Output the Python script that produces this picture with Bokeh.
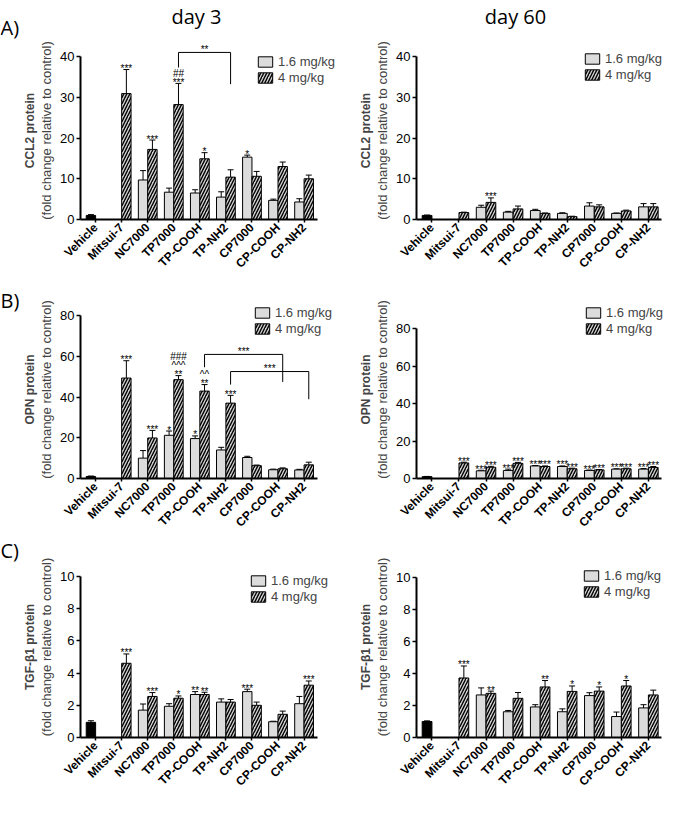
import math
from bokeh.plotting import figure
from bokeh.models import (ColumnDataSource, Whisker, TeeHead, Legend, LegendItem,
                          Title, FixedTicker, Range1d)
from bokeh.layouts import row, column
from bokeh.embed import file_html
from bokeh.resources import INLINE
from bokeh.core.properties import value

# ---------------- data ----------------
groups = ["Vehicle", "Mitsui-7", "NC7000", "TP7000", "TP-COOH", "TP-NH2", "CP7000", "CP-COOH", "CP-NH2"]
dose_labels = ["1.6 mg/kg", "4 mg/kg"]
panel_letters = ["A)", "B)", "C)"]
day_titles = ["day 3", "day 60"]

# CCL2, day 3
ccl2_d3_vehicle = [1.0, 0.2]
ccl2_d3_low = [None, 9.7, 6.7, 6.5, 5.5, 15.3, 4.7, 4.3]
ccl2_d3_low_err = [None, 2.3, 1.0, 0.8, 1.3, 0.5, 0.3, 0.8]
ccl2_d3_high = [30.9, 17.2, 28.2, 14.9, 10.4, 10.6, 13.0, 10.0]
ccl2_d3_high_err = [5.9, 2.3, 5.2, 1.5, 1.8, 1.2, 1.1, 0.9]
ccl2_d3_low_sig = ["", "", "", "", "", "*", "", ""]
ccl2_d3_high_sig = ["***", "***", "##\n***", "*", "", "", "", ""]
ccl2_d3_brackets = [("TP7000", "TP-NH2", 41.0, 37.3, 33.2, "**")]

# CCL2, day 60
ccl2_d60_vehicle = [1.0, 0.1]
ccl2_d60_low = [None, 3.0, 1.8, 2.2, 1.5, 3.3, 1.5, 3.1]
ccl2_d60_low_err = [None, 0.5, 0.2, 0.3, 0.15, 0.8, 0.1, 0.8]
ccl2_d60_high = [1.7, 4.2, 2.6, 1.5, 0.7, 3.1, 2.1, 3.1]
ccl2_d60_high_err = [0.1, 1.1, 0.7, 0.1, 0.1, 0.5, 0.2, 0.8]
ccl2_d60_low_sig = ["", "", "", "", "", "", "", ""]
ccl2_d60_high_sig = ["", "***", "", "", "", "", "", ""]
ccl2_d60_brackets = []

# OPN, day 3
opn_d3_vehicle = [1.0, 0.2]
opn_d3_low = [None, 10.0, 21.2, 19.6, 14.0, 10.3, 4.3, 4.2]
opn_d3_low_err = [None, 3.7, 2.1, 1.3, 1.3, 0.6, 0.3, 0.3]
opn_d3_high = [49.3, 19.9, 48.5, 42.9, 37.0, 6.3, 4.8, 6.7]
opn_d3_high_err = [8.5, 3.7, 2.0, 3.2, 3.8, 0.3, 0.4, 1.3]
opn_d3_low_sig = ["", "", "*", "*", "", "", "", ""]
opn_d3_high_sig = ["***", "***", "###\n^^^\n**", "^^\n**", "***", "", "", ""]
opn_d3_brackets = [("TP-COOH", "CP-COOH", 60.9, 54.6, 47.4, "***"),
                   ("TP-NH2", "CP-NH2", 52.5, 46.1, 38.9, "***")]

# OPN, day 60
opn_d60_vehicle = [1.0, 0.1]
opn_d60_low = [None, 4.1, 4.3, 6.7, 6.4, 4.3, 5.0, 5.0]
opn_d60_low_err = [None, 0.3, 0.7, 0.2, 0.3, 0.2, 0.2, 0.3]
opn_d60_high = [8.3, 6.0, 8.1, 6.4, 5.2, 4.6, 5.2, 5.9]
opn_d60_high_err = [0.4, 0.5, 0.5, 0.3, 0.3, 0.2, 0.3, 0.5]
opn_d60_low_sig = ["", "***", "***", "***", "***", "***", "***", "***"]
opn_d60_high_sig = ["***", "***", "***", "***", "***", "***", "***", "***"]
opn_d60_brackets = []

# TGF-beta1, day 3
tgf_d3_vehicle = [0.94, 0.1]
tgf_d3_low = [None, 1.70, 1.94, 2.67, 2.20, 2.85, 0.98, 2.10]
tgf_d3_low_err = [None, 0.38, 0.16, 0.18, 0.20, 0.15, 0.03, 0.45]
tgf_d3_high = [4.61, 2.55, 2.44, 2.67, 2.20, 2.00, 1.44, 3.25]
tgf_d3_high_err = [0.58, 0.24, 0.14, 0.14, 0.16, 0.20, 0.20, 0.26]
tgf_d3_low_sig = ["", "", "", "**", "", "***", "", ""]
tgf_d3_high_sig = ["***", "***", "*", "**", "", "", "", "***"]
tgf_d3_brackets = []

# TGF-beta1, day 60
tgf_d60_vehicle = [1.0, 0.04]
tgf_d60_low = [None, 2.66, 1.61, 1.91, 1.61, 2.62, 1.31, 1.85]
tgf_d60_low_err = [None, 0.44, 0.08, 0.14, 0.18, 0.18, 0.28, 0.20]
tgf_d60_high = [3.72, 2.76, 2.45, 3.16, 2.88, 2.90, 3.22, 2.66]
tgf_d60_high_err = [0.75, 0.14, 0.36, 0.40, 0.34, 0.26, 0.34, 0.30]
tgf_d60_low_sig = ["", "", "", "", "", "", "", ""]
tgf_d60_high_sig = ["***", "**", "", "**", "*", "*", "*", ""]
tgf_d60_brackets = []

# ---------------- styling / layout ----------------
FONT = "Liberation Sans"
HEAD_FONT = "Open Sans"
LIGHT = "#dcdcdc"
HATCH_BG = "#d2d2d2"
BAR_W = 0.36
OFF = 0.18
PITCH = 27.06          # px per category
LETTER_W = 20
HEADER_H = 32
LEFT_W = 320
RIGHT_W = 329
ROW_TOPS = [32, 288, 547]   # page y of each row's top
ROW_H = [256, 259, 250]


def make_panel(fig_w, row_i, b_left, x_start, frame_top, ytop_px, y0_px, y_top, y_ticks,
               vehicle, low, low_err, high, high_err, low_sig, high_sig, brackets,
               bold_label, legend_loc):
    fig_top = ROW_TOPS[row_i]
    fig_h = ROW_H[row_i]
    b_top = frame_top - fig_top
    b_bottom = fig_top + fig_h - y0_px
    y_end = y_top * (y0_px - frame_top) / (y0_px - ytop_px)
    x_end = x_start + (fig_w - b_left) / PITCH
    p = figure(width=fig_w, height=fig_h, x_range=Range1d(x_start, x_end),
               y_range=Range1d(0, y_end),
               output_backend="svg", toolbar_location=None,
               min_border_left=b_left, min_border_right=0,
               min_border_top=b_top, min_border_bottom=b_bottom)
    p.xgrid.visible = False
    p.ygrid.visible = False
    p.outline_line_color = None

    lx, lt, le = [], [], []
    hx, ht, he = [], [], []
    for i in range(8):
        if low[i] is not None:
            lx.append(i + 1 - OFF); lt.append(low[i]); le.append(low[i] + low_err[i])
        if high[i] is not None:
            hx.append(i + 1 + OFF); ht.append(high[i]); he.append(high[i] + high_err[i])

    src_v = ColumnDataSource(dict(x=[0 - OFF], top=[vehicle[0]], hi=[vehicle[0] + vehicle[1]]))
    src_l = ColumnDataSource(dict(x=lx, top=lt, hi=le))
    src_h = ColumnDataSource(dict(x=hx, top=ht, hi=he))

    p.vbar(x="x", top="top", width=BAR_W, source=src_v, fill_color="black",
           line_color="black", line_width=1)
    r_low = p.vbar(x="x", top="top", width=BAR_W, source=src_l, fill_color=LIGHT,
                   line_color="black", line_width=1)
    r_high = p.vbar(x="x", top="top", width=BAR_W, source=src_h, fill_color=HATCH_BG,
                    line_color="black", line_width=1, hatch_pattern="/", hatch_color="black",
                    hatch_weight=1.4, hatch_scale=6)

    for s in (src_v, src_l, src_h):
        p.add_layout(Whisker(base="x", lower="top", upper="hi", source=s, dimension="height",
                             line_color="black", line_width=1, lower_head=None,
                             upper_head=TeeHead(size=6, line_color="black", line_width=1)))

    # significance marks, stacked bottom-up above the error bar
    tx, ty, tt, to = [], [], [], []
    for i in range(8):
        for sig, xs, m, e in ((low_sig[i], i + 1 - OFF, low[i], low_err[i]),
                              (high_sig[i], i + 1 + OFF, high[i], high_err[i])):
            if not sig:
                continue
            for k, ln in enumerate(sig.split("\n")[::-1]):
                tx.append(xs); ty.append(m + e); tt.append(ln); to.append(-1 - 9 * k)
    p.text(x=tx, y=ty, text=tt, y_offset=to, text_align="center", text_baseline="alphabetic",
           text_font=value(FONT), text_font_size="10px", text_color="black")

    for (g0, g1, ytop, yb0, yb1, lab) in brackets:
        x0 = groups.index(g0) + OFF
        x1 = groups.index(g1) + OFF
        p.line(x=[x0, x0, x1, x1], y=[yb0, ytop, ytop, yb1], line_color="black", line_width=1)
        p.text(x=[(x0 + x1) / 2], y=[ytop], text=[lab], y_offset=[-3], text_align="center",
               text_baseline="alphabetic", text_font=value(FONT), text_font_size="10px",
               text_color="black")

    xa = p.xaxis[0]
    xa.ticker = FixedTicker(ticks=list(range(9)))
    xa.bounds = (x_start, 8.5)
    xa.major_label_overrides = {i: g for i, g in enumerate(groups)}
    xa.major_label_orientation = math.pi / 4
    xa.major_label_text_font = FONT
    xa.major_label_text_font_style = "bold"
    xa.major_label_text_font_size = "12px"
    xa.major_label_text_line_height = 0.8
    xa.major_label_text_color = "black"
    xa.major_label_standoff = 3
    xa.axis_line_width = 2
    xa.axis_line_color = "black"
    xa.major_tick_out = 3
    xa.major_tick_in = 0
    xa.major_tick_line_width = 1.5
    xa.minor_tick_line_color = None

    ya = p.yaxis[0]
    ya.ticker = FixedTicker(ticks=y_ticks)
    ya.bounds = (0, y_top)
    ya.major_label_text_font = FONT
    ya.major_label_text_font_size = "13px"
    ya.major_label_text_color = "black"
    ya.major_label_standoff = 2
    ya.axis_line_width = 2
    ya.axis_line_color = "black"
    ya.major_tick_out = 4
    ya.major_tick_in = 0
    ya.major_tick_line_width = 1.5
    ya.minor_tick_line_color = None
    ya.axis_label = "(fold change relative to control)"
    ya.axis_label_text_font = FONT
    ya.axis_label_text_font_style = "normal"
    ya.axis_label_text_font_size = "13px"
    ya.axis_label_standoff = 3
    p.add_layout(Title(text=bold_label, text_font=FONT, text_font_style="bold",
                       text_font_size="12px", align="center", standoff=0), "left")

    legend = Legend(items=[LegendItem(label=dose_labels[0], renderers=[r_low]),
                           LegendItem(label=dose_labels[1], renderers=[r_high])],
                    location=legend_loc, orientation="vertical", border_line_color=None,
                    background_fill_alpha=0, padding=0, margin=0, spacing=1,
                    glyph_width=18, glyph_height=13, label_height=13, label_standoff=4,
                    label_text_font=FONT, label_text_font_size="13px",
                    label_text_baseline="middle")
    p.add_layout(legend)
    return p


def text_strip(w, h, xs, ys, texts, size, align):
    p = figure(width=w, height=h, x_range=Range1d(0, w), y_range=Range1d(h, 0),
               output_backend="svg", toolbar_location=None, min_border=0,
               x_axis_location=None, y_axis_location=None)
    p.xgrid.visible = False
    p.ygrid.visible = False
    p.outline_line_color = None
    p.text(x=xs, y=ys, text=texts, text_font=value(HEAD_FONT), text_font_size=size,
           text_align=align, text_baseline="alphabetic", text_color="black")
    return p


letters = text_strip(LETTER_W, 797, [0, 0, 0], [27, 300, 550], panel_letters, "20px", "left")
header = text_strip(LEFT_W + RIGHT_W, HEADER_H, [176, 495], [16, 16], day_titles, "20px", "center")

pA1 = make_panel(LEFT_W, 0, 50, -0.58, 41, 56, 219, 40, [0, 10, 20, 30, 40],
                 ccl2_d3_vehicle, ccl2_d3_low, ccl2_d3_low_err, ccl2_d3_high, ccl2_d3_high_err,
                 ccl2_d3_low_sig, ccl2_d3_high_sig, ccl2_d3_brackets, "CCL2 protein", (176, 134))
pA2 = make_panel(RIGHT_W, 0, 76, -0.57, 41, 56, 219, 40, [0, 10, 20, 30, 40],
                 ccl2_d60_vehicle, ccl2_d60_low, ccl2_d60_low_err, ccl2_d60_high, ccl2_d60_high_err,
                 ccl2_d60_low_sig, ccl2_d60_high_sig, ccl2_d60_brackets, "CCL2 protein", (167, 137))
pB1 = make_panel(LEFT_W, 1, 50, -0.58, 300, 315, 478, 80, [0, 20, 40, 60, 80],
                 opn_d3_vehicle, opn_d3_low, opn_d3_low_err, opn_d3_high, opn_d3_high_err,
                 opn_d3_low_sig, opn_d3_high_sig, opn_d3_brackets, "OPN protein", (173, 142))
pB2 = make_panel(RIGHT_W, 1, 76, -0.57, 300, 328, 478, 80, [0, 20, 40, 60, 80],
                 opn_d60_vehicle, opn_d60_low, opn_d60_low_err, opn_d60_high, opn_d60_high_err,
                 opn_d60_low_sig, opn_d60_high_sig, opn_d60_brackets, "OPN protein", (168, 142))
pC1 = make_panel(LEFT_W, 2, 50, -0.58, 556, 576, 737, 10, [0, 2, 4, 6, 8, 10],
                 tgf_d3_vehicle, tgf_d3_low, tgf_d3_low_err, tgf_d3_high, tgf_d3_high_err,
                 tgf_d3_low_sig, tgf_d3_high_sig, tgf_d3_brackets, "TGF-\u03b21 protein", (169, 133))
pC2 = make_panel(RIGHT_W, 2, 76, -0.57, 556, 577, 737, 10, [0, 2, 4, 6, 8, 10],
                 tgf_d60_vehicle, tgf_d60_low, tgf_d60_low_err, tgf_d60_high, tgf_d60_high_err,
                 tgf_d60_low_sig, tgf_d60_high_sig, tgf_d60_brackets, "TGF-\u03b21 protein", (166, 138))

layout = row(letters, column(header, row(pA1, pA2), row(pB1, pB2), row(pC1, pC2)))
open("out.html", "w").write(file_html(layout, INLINE))
